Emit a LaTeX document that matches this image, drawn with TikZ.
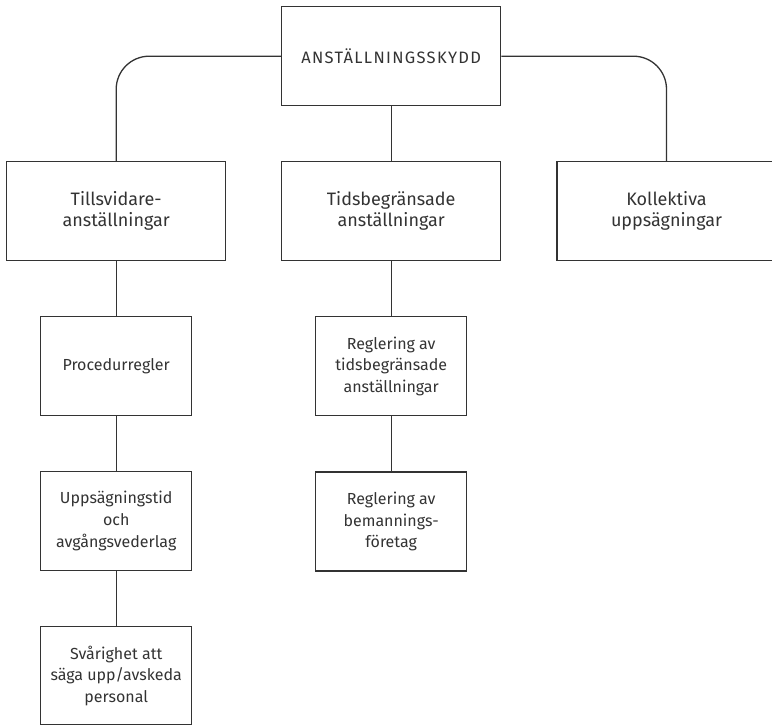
\documentclass[tikz,border=0pt]{standalone}
\usepackage{fontspec}
\setmainfont{Fira Sans}
\definecolor{ink}{HTML}{333333}
\begin{document}
\begin{tikzpicture}[x=1pt,y=-1pt,
  box/.style={draw=ink,line width=1.3pt,text=ink,align=center,inner sep=0pt,minimum height=99pt},
  big/.style={box,minimum width=219pt,font=\fontsize{18}{21.7}\selectfont},
  small/.style={box,minimum width=151pt,font=\fontsize{16}{21.7}\selectfont},
  link/.style={draw=ink,line width=1.3pt}]
\useasboundingbox (0,0) rectangle (772,726);
\node[big,font=\fontsize{16.5}{18}\selectfont\addfontfeatures{LetterSpace=8}] (top) at (391.2,56.2) {ANSTÄLLNINGSSKYDD};
\node[big] (till) at (116.2,211) {Tillsvidare-\\anställningar};
\node[big] (tids) at (391.2,211) {Tidsbegränsade\\anställningar};
\node[big] (koll) at (666.5,211) {Kollektiva\\uppsägningar};
\node[small] (proc) at (116.2,366.3) {Procedurregler};
\node[small] (upps) at (116.2,521) {Uppsägningstid\\och\\avgångsvederlag};
\node[small,minimum height=98pt] (svar) at (116.2,675.8) {Svårighet att\\säga upp/avskeda\\personal};
\node[small] (regt) at (391.2,366.3) {Reglering av\\tidsbegränsade\\anställningar};
\node[small] (regb) at (391.2,521.5) {Reglering av\\bemannings-\\företag};
\draw[link,rounded corners=33pt] (top.west) -| (till.north);
\draw[link,rounded corners=33pt] (top.east) -| (koll.north);
\draw[link] (top) -- (tids);
\draw[link] (till) -- (proc);
\draw[link] (proc) -- (upps);
\draw[link] (upps) -- (svar);
\draw[link] (tids) -- (regt);
\draw[link] (regt) -- (regb);
\end{tikzpicture}
\end{document}
